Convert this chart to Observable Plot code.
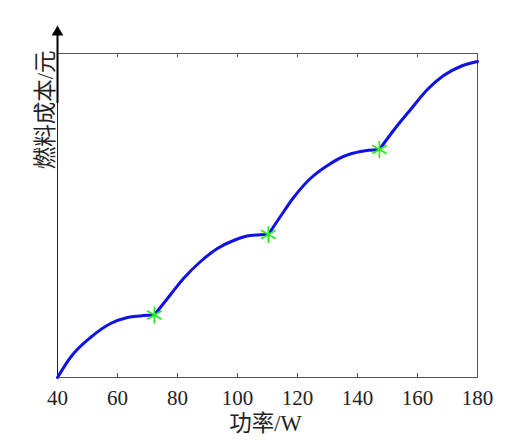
<!DOCTYPE html>
<html>
<head>
<meta charset="utf-8">
<script src="https://cdn.jsdelivr.net/npm/d3@7"></script>
<script src="https://cdn.jsdelivr.net/npm/@observablehq/plot@0.6"></script>
<style>
  html, body { margin: 0; padding: 0; background: #fff; }
  #chart svg { display: block; }
</style>
</head>
<body>
<div id="chart"></div>
<script>
// Data (cost in relative units; the y axis has no ticks)
const power   = [40, 44.3, 51, 57.7, 63.3, 68.7, 72.3,
                 72.3, 77.7, 82, 87.7, 93.3, 98.7, 104.3, 110.3,
                 110.3, 114.3, 118.7, 124.3, 130, 135.3, 141, 147.3,
                 147.3, 152, 157.7, 163.3, 168.7, 174.3, 180];
const cost    = [0, 20, 40, 54, 60, 62, 62.5,
                 62.5, 83, 99, 116, 129, 137, 142, 143,
                 143, 161, 180, 199, 212, 221, 226, 228,
                 228, 247, 268, 288, 302, 311, 316];
const segment = [1, 1, 1, 1, 1, 1, 1,
                 2, 2, 2, 2, 2, 2, 2, 2,
                 3, 3, 3, 3, 3, 3, 3, 3,
                 4, 4, 4, 4, 4, 4, 4];
const starPower = [72.3, 110.3, 147.3];
const starCost  = [62.5, 143, 228];
const xTicks = [40, 60, 80, 100, 120, 140, 160, 180];
const xLabel = "功率/W";
const yLabel = "燃料成本/元";

const curve = power.map((p, i) => ({power: p, cost: cost[i], segment: segment[i]}));
const stars = starPower.map((p, i) => ({power: p, cost: starCost[i]}));

const W = 521, H = 445;
const mt = 53, mb = 68, ml = 57, mr = 44;
const innerH = H - mt - mb;
const font = "'Liberation Serif', 'Noto Sans CJK SC', serif";
const yMax = 324;
const axisTop = yMax + 18;      // arrow base above the frame
const arrowCenter = yMax + 21.3; // triangle centroid

const chart = Plot.plot({
  width: W,
  height: H,
  marginTop: mt, marginBottom: mb, marginLeft: ml, marginRight: mr,
  style: {fontFamily: font, background: "#fff", color: "#222"},
  x: {domain: [40, 180], ticks: xTicks},
  y: {domain: [0, yMax]},
  marks: [
    Plot.frame({stroke: "#555", strokeWidth: 1}),
    // inward ticks on bottom and top
    Plot.tickX(xTicks.slice(1, -1), {x: d => d, insetTop: innerH - 4, stroke: "#555"}),
    Plot.tickX(xTicks.slice(1, -1), {x: d => d, insetBottom: innerH - 4, stroke: "#555"}),
    Plot.axisX({anchor: "bottom", ticks: xTicks, tickSize: 0, tickPadding: 13, fontSize: 21, fill: "#222", label: null, tickFormat: d => String(d)}),
    Plot.axisY({ticks: [], label: null, tickSize: 0}),
    // y axis with arrow
    Plot.ruleX([40], {y1: 0, y2: axisTop, stroke: "#222", strokeWidth: 1}),
    Plot.ruleX([40], {y1: yMax - 50, y2: axisTop, stroke: "#000", strokeWidth: 2}),
    Plot.dot([40], {x: d => d, y: arrowCenter, symbol: "triangle", r: 4.3, fill: "#000", stroke: "none"}),
    // curve
    Plot.line(curve, {x: "power", y: "cost", z: "segment", curve: "monotone-x", stroke: "#1010e8", strokeWidth: 3}),
    Plot.dot(stars, {x: "power", y: "cost", symbol: "asterisk", r: 8, stroke: "#22ee22", strokeWidth: 1.7}),
    // labels
    Plot.text([xLabel], {text: d => d, frameAnchor: "bottom", dy: 46, dx: -2, fontSize: 22.5, lineAnchor: "middle", fill: "#222"}),
    Plot.text([yLabel], {text: d => d, frameAnchor: "top-left", dx: -12, dy: -3, rotate: -90, textAnchor: "end", lineAnchor: "middle", fontSize: 22.5, fill: "#222"})
  ]
});
document.getElementById("chart").appendChild(chart);
</script>
</body>
</html>
